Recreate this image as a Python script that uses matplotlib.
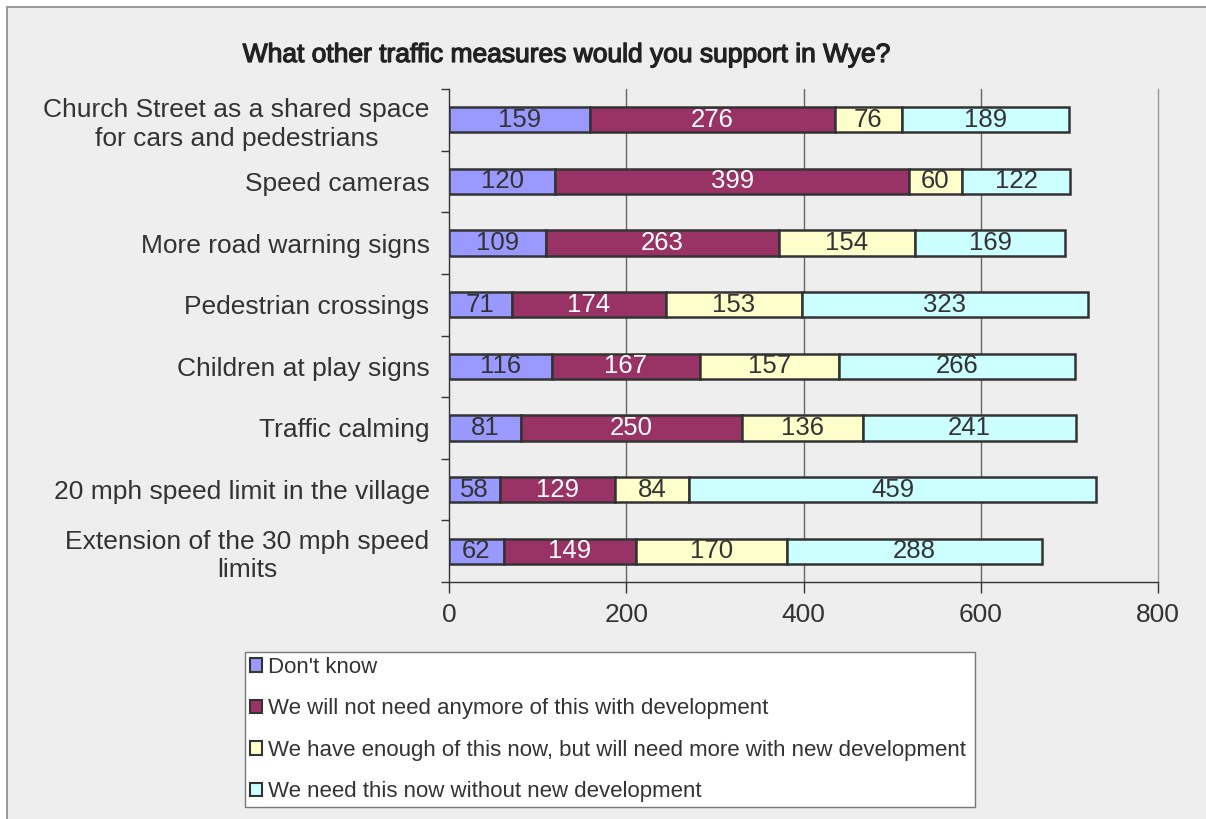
import matplotlib
matplotlib.use("Agg")
import matplotlib.pyplot as plt
import matplotlib.patheffects as pe
from matplotlib.patches import Rectangle
import numpy as np

plt.rcParams['font.family'] = ['Liberation Sans', 'DejaVu Sans']

categories = [
    "Church Street as a shared space\nfor cars and pedestrians",
    "Speed cameras",
    "More road warning signs",
    "Pedestrian crossings",
    "Children at play signs",
    "Traffic calming",
    "20 mph speed limit in the village",
    "Extension of the 30 mph speed\nlimits",
]
series_names = [
    "Don't know",
    "We will not need anymore of this with development",
    "We have enough of this now, but will need more with new development",
    "We need this now without new development",
]
dont_know = [159, 120, 109, 71, 116, 81, 58, 62]
not_need = [276, 399, 263, 174, 167, 250, 129, 149]
enough_now = [76, 60, 154, 153, 157, 136, 84, 170]
need_now = [189, 122, 169, 323, 266, 241, 459, 288]
colors = ["#9999FF", "#993366", "#FFFFCC", "#CCFFFF"]
text_colors = ["#333333", "white", "#333333", "#333333"]
x_ticks = [0, 200, 400, 600, 800]

bg = "#EEEEEE"
dark = "#333333"

fig = plt.figure(figsize=(12.06, 8.19), dpi=100, facecolor="white")
# outer chart frame
fig.patches.append(Rectangle((7 / 1206, -0.01), 1.02, (819 - 7) / 819 + 0.01,
                             transform=fig.transFigure, facecolor=bg,
                             edgecolor="#888888", linewidth=1.2, zorder=-10))

ax = fig.add_axes([449 / 1206, (819 - 582) / 819, (1158 - 449) / 1206, (582 - 89) / 819])
ax.set_facecolor(bg)

y = np.arange(len(categories))
data = [dont_know, not_need, enough_now, need_now]
left = np.zeros(len(categories))
for vals, name, col, tcol in zip(data, series_names, colors, text_colors):
    bars = ax.barh(y, vals, left=left, height=0.41, color=col, edgecolor=dark,
                   linewidth=1.8, label=name, zorder=3)
    ax.bar_label(bars, labels=[str(v) for v in vals], label_type="center",
                 color=tcol, fontsize=18.5, zorder=4)
    left += np.array(vals)

ax.set_xlim(0, 800)
ax.set_ylim(len(categories) - 0.5, -0.5)
ax.set_xticks(x_ticks)
ax.set_xticklabels([str(t) for t in x_ticks], fontsize=19, color=dark)
ax.tick_params(axis="x", length=8, width=1, color=dark, pad=7)
ax.set_yticks(y)
ax.set_yticklabels(categories, fontsize=19, color=dark)
ax.tick_params(axis="y", which="major", length=0, pad=14)
ax.set_yticks(np.arange(-0.5, len(categories)), minor=True)
ax.tick_params(axis="y", which="minor", length=6, width=1, color=dark)
for lbl in ax.get_yticklabels():
    lbl.set_multialignment("center")
    lbl.set_linespacing(1.25)

for t in x_ticks[1:-1]:
    ax.axvline(t, color="#666666", linewidth=1, zorder=1)

ax.spines["top"].set_visible(False)
ax.spines["right"].set_color("#999999")
ax.spines["left"].set_color(dark)
ax.spines["bottom"].set_color(dark)
for s in ["left", "bottom", "right"]:
    ax.spines[s].set_linewidth(1)

title = fig.text(567 / 1206, 1 - 55 / 819, "What other traffic measures would you support in Wye?",
                 ha="center", va="center", fontsize=19, color="#222222")
title.set_path_effects([pe.withStroke(linewidth=0.9, foreground="#222222")])

leg = fig.legend(loc="lower left",
                 bbox_to_anchor=(245 / 1206, (819 - 807) / 819, 730 / 1206, 159 / 819),
                 mode="expand", ncol=1, fontsize=16, frameon=True, fancybox=False,
                 framealpha=1, handlelength=0.55, handleheight=0.55, handletextpad=0.25,
                 labelspacing=0.92, borderaxespad=0, borderpad=0.22)
leg.get_frame().set_edgecolor("#777777")
leg.get_frame().set_linewidth(1)
leg.get_frame().set_facecolor("white")
for txt in leg.get_texts():
    txt.set_color(dark)
for h in leg.legend_handles:
    h.set_linewidth(1.5)

fig.savefig("out.png", dpi=100, facecolor="white")
